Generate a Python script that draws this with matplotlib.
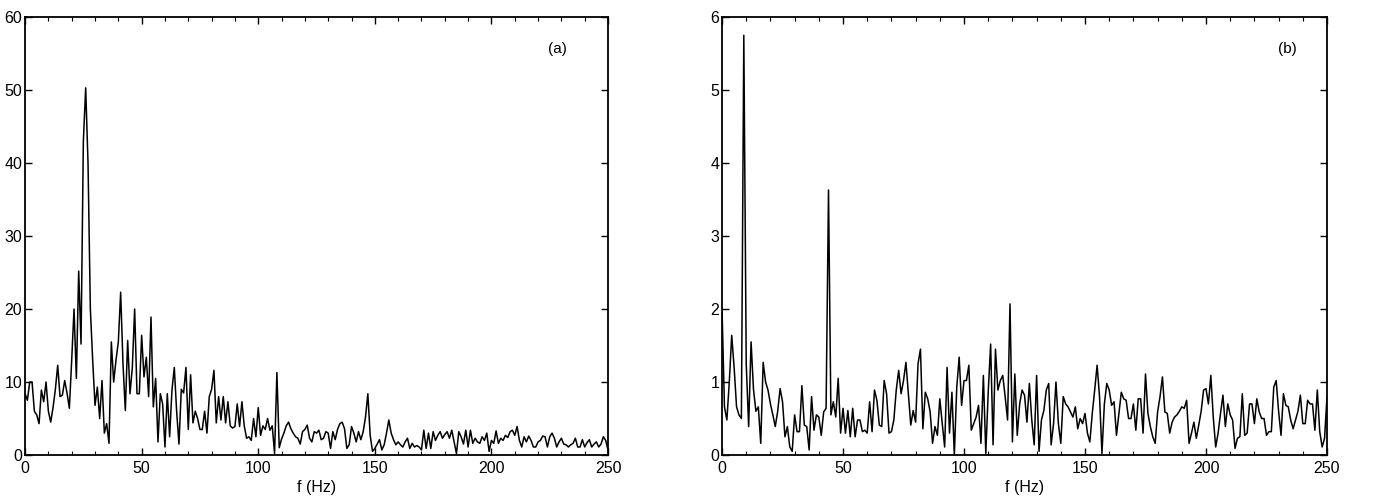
import numpy as np
import matplotlib
matplotlib.use('Agg')
import matplotlib.pyplot as plt
from matplotlib.ticker import MultipleLocator

plt.rcParams['font.family'] = ['Liberation Sans', 'DejaVu Sans']
plt.rcParams['font.size'] = 11.5

# Spectrum (a), 1 Hz steps from 0 to 250 Hz
spec_a = [
    8.4, 7.5, 10, 10, 6, 5.5, 4.3, 8.9, 7.3, 10,
    6, 4.5, 6.5, 9, 12.3, 8, 8.2, 10.2, 8.5, 6.4,
    13, 20, 10.5, 25.2, 15.2, 43, 50.3, 40, 20, 13,
    6.8, 9.3, 5, 10.2, 3, 4.3, 1.6, 15.5, 10, 13,
    15.5, 22.3, 12.5, 6.1, 15.7, 8.4, 12, 20, 8.4, 8.4,
    16.4, 10.7, 13.4, 8, 18.9, 6.6, 10.5, 1.8, 8.4, 7,
    1.1, 8.4, 2.5, 8.9, 12, 6, 1.5, 9, 8.5, 12,
    3.5, 11, 4.4, 6, 5, 3.5, 3.5, 6, 3, 8,
    9, 11.6, 4.4, 8, 4.8, 8, 4.4, 7.3, 4, 3.7,
    3.9, 7, 3.9, 7.3, 4, 2.3, 2.5, 2, 5, 2.5,
    6.5, 2.7, 4, 3.5, 5, 3.4, 4, 0.2, 11.3, 1,
    2.2, 3, 4, 4.5, 3.6, 3, 2.5, 2.3, 1.5, 3.2,
    3.5, 4.1, 2.3, 1.8, 3.2, 3, 3.4, 2.1, 2.3, 3.2,
    3, 0.9, 3.2, 2.1, 3.5, 4.3, 4.5, 3.6, 0.9, 1.4,
    3.9, 3, 1.8, 3.2, 2.1, 3.2, 5.2, 8.4, 2.7, 0.5,
    0.9, 1.5, 2.1, 0.7, 1.4, 3, 4.8, 3, 2.1, 1.4,
    1.8, 1.4, 1.1, 1.8, 2.3, 0.9, 1.6, 1.1, 1.3, 1.1,
    0.7, 3.4, 0.9, 3, 0.9, 3.2, 2, 2.7, 3.2, 2.3,
    2.8, 3.2, 2.3, 3.4, 1.8, 0.2, 3.2, 2.5, 1.5, 3.4,
    1.1, 3.4, 1.6, 2.3, 1.8, 1.6, 2.5, 2, 3, 0.5,
    2, 1.6, 3.3, 1.6, 2.3, 2, 2.7, 2.4, 3.2, 3.4,
    2.7, 3.9, 2, 1.1, 2.5, 1.8, 2.6, 2, 1.1, 1.1,
    1.8, 2, 2.6, 2.5, 1.1, 2.5, 3, 2.3, 1.1, 1.8,
    2.3, 1.5, 1.4, 1.1, 1.4, 1.6, 2.3, 1.1, 1.1, 2.1,
    1.1, 1.7, 2.1, 1.1, 1.5, 1.8, 1.1, 1.5, 2.5, 2,
    0.7,
]

# Spectrum (b), 1 Hz steps from 0 to 250 Hz
spec_b = [
    2.0, 0.66, 0.48, 1.0, 1.64, 1.2, 0.66, 0.55, 0.5, 5.75,
    1.25, 0.39, 1.55, 0.9, 0.6, 0.66, 0.16, 1.27, 1.0, 0.89,
    0.7, 0.55, 0.39, 0.6, 0.91, 0.73, 0.25, 0.39, 0.11, 0.05,
    0.55, 0.32, 0.32, 0.95, 0.41, 0.39, 0.07, 0.8, 0.34, 0.55,
    0.52, 0.27, 0.59, 0.64, 3.63, 0.55, 0.73, 0.52, 1.05, 0.3,
    0.64, 0.3, 0.61, 0.25, 0.64, 0.25, 0.48, 0.48, 0.32, 0.34,
    0.3, 0.73, 0.32, 0.89, 0.75, 0.41, 0.39, 1.02, 0.84, 0.3,
    0.32, 0.48, 0.89, 1.16, 0.84, 1.02, 1.27, 0.84, 0.41, 0.61,
    0.45, 1.25, 1.45, 0.36, 0.86, 0.77, 0.59, 0.16, 0.39, 0.27,
    0.77, 0.43, 0.11, 1.2, 0.3, 0.86, 0.0, 0.93, 1.34, 0.68,
    1.02, 1.02, 1.23, 0.34, 0.43, 0.52, 0.68, 0.16, 1.09, 0.02,
    0.86, 1.52, 0.14, 1.45, 0.89, 1.02, 1.09, 0.8, 0.48, 2.07,
    0.18, 1.11, 0.27, 0.7, 0.89, 0.82, 0.45, 0.98, 0.48, 0.14,
    1.09, 0.05, 0.48, 0.61, 0.89, 0.98, 0.14, 0.43, 1.0, 0.43,
    0.16, 0.8, 0.7, 0.66, 0.59, 0.52, 0.66, 0.36, 0.5, 0.43,
    0.57, 0.3, 0.18, 0.57, 0.89, 1.23, 0.8, 0.02, 0.7, 0.98,
    0.89, 0.68, 0.73, 0.27, 0.57, 0.86, 0.77, 0.75, 0.5, 0.5,
    0.7, 0.34, 0.77, 0.77, 0.3, 1.11, 0.57, 0.39, 0.25, 0.16,
    0.59, 0.8, 1.07, 0.59, 0.57, 0.3, 0.45, 0.52, 0.55, 0.6,
    0.66, 0.64, 0.75, 0.16, 0.3, 0.45, 0.23, 0.41, 0.6, 0.89,
    0.91, 0.7, 1.09, 0.52, 0.11, 0.3, 0.57, 0.82, 0.39, 0.7,
    0.55, 0.48, 0.09, 0.23, 0.25, 0.84, 0.27, 0.3, 0.7, 0.7,
    0.43, 0.77, 0.59, 0.5, 0.5, 0.27, 0.32, 0.32, 0.93, 1.02,
    0.6, 0.27, 0.84, 0.68, 0.66, 0.48, 0.36, 0.48, 0.6, 0.82,
    0.43, 0.43, 0.75, 0.7, 0.7, 0.34, 0.89, 0.32, 0.11, 0.23,
    0.8,
]

freq = np.arange(len(spec_a))

fig = plt.figure(figsize=(13.92, 4.98), dpi=100)
ax_a = fig.add_axes([0.018, 0.0863, 0.4188, 0.8795])
ax_b = fig.add_axes([0.5187, 0.0863, 0.4346, 0.8795])

panels = [(ax_a, spec_a, 60, 10, '(a)', 228.5, 55.6),
          (ax_b, spec_b, 6, 1, '(b)', 233.8, 5.56)]

for ax, spec, ymax, ystep, tag, tx, ty in panels:
    ax.plot(freq[:len(spec)], spec, color='black', lw=1.1)
    ax.set_xlim(0, 250)
    ax.set_ylim(0, ymax)
    ax.xaxis.set_major_locator(MultipleLocator(50))
    ax.xaxis.set_minor_locator(MultipleLocator(10))
    ax.yaxis.set_major_locator(MultipleLocator(ystep))
    ax.tick_params(which='both', direction='in', top=True, right=True,
                   colors='black')
    ax.tick_params(which='major', length=5, width=1)
    ax.tick_params(which='minor', length=3, width=0.8)
    ax.tick_params(axis='x', pad=4)
    ax.tick_params(axis='y', pad=2)
    for s in ax.spines.values():
        s.set_linewidth(1.3)
    ax.set_xlabel('f (Hz)', labelpad=3)
    ax.text(tx, ty, tag, ha='center', va='center', fontsize=11)

fig.savefig('out.png', dpi=100)
